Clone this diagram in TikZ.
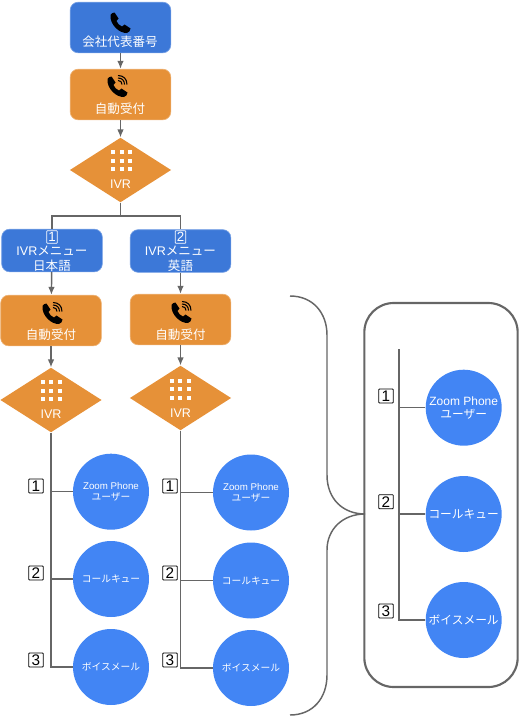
\documentclass[tikz,border=0pt]{standalone}
\usepackage{fontspec}
\usepackage{tikz}
\usetikzlibrary{shapes.geometric,arrows.meta}
\setmainfont{Noto Sans CJK JP}
\newfontfamily\latinfont{Liberation Sans}
\definecolor{menublue}{HTML}{3C78D8}
\definecolor{useblue}{HTML}{4285F4}
\definecolor{aaorange}{HTML}{E69138}
\definecolor{linegray}{HTML}{666666}

\begin{document}
\begin{tikzpicture}[
  x=0.75pt, y=-0.75pt,
  bluebox/.style={rectangle, rounded corners=6pt, draw=menublue!70!white, line width=0.5pt, fill=menublue, inner sep=0pt, minimum width=75.5pt, minimum height=38pt},
  menubox/.style={bluebox, minimum height=32pt},
  orangebox/.style={rectangle, rounded corners=6pt, draw=aaorange!70!white, line width=0.5pt, fill=aaorange, inner sep=0pt, minimum width=75.5pt, minimum height=38pt},
  ivrnode/.style={diamond, fill=aaorange, inner sep=0pt, minimum width=76pt, minimum height=48.5pt},
  usernode/.style={circle, fill=useblue, text=white, inner sep=0pt, minimum size=57pt, align=center, font=\fontsize{7.3}{8.4}\selectfont},
  bigusernode/.style={usernode, font=\fontsize{8.8}{10}\selectfont},
  caption/.style={text=white, inner sep=0pt, font=\fontsize{9.4}{11.2}\selectfont, align=center},
  keybox/.style={rectangle, rounded corners=0.6pt, draw=black, fill=white, line width=0.6pt, inner sep=0pt, minimum width=11pt, minimum height=10.5pt, font=\latinfont\fontsize{11.5}{11.5}\selectfont},
  menukey/.style={keybox, draw=white, fill=menublue, text=white, minimum width=8pt, minimum height=9.5pt, font=\latinfont\fontsize{10}{10}\selectfont},
  link/.style={draw=linegray, line width=1.1pt},
  flow/.style={link, -{Latex[length=6pt,width=5pt]}},
  phone/.pic={
    \fill[black] (-9.5,-8) .. controls (-9,-9.5) and (-7,-10.5) .. (-5.5,-10.5) -- (-1.5,-4.5)
      .. controls (-2,-3.5) and (-3,-3) .. (-3.5,-2) .. controls (-2.5,0.5) and (-0.5,2.5) .. (2,3.5)
      .. controls (3,3) and (3.5,2) .. (4.5,1.5) -- (10.5,5.5) .. controls (10.5,7.5) and (9,9.5) .. (7,10)
      .. controls (-1,10.5) and (-10.5,1) .. (-9.5,-8) -- cycle;
  },
  waves/.pic={
    \draw[black, line width=0.8pt] (1,-6.5) .. controls (3.5,-6.5) and (5,-5) .. (5,-2.5);
    \draw[black, line width=0.8pt] (1,-9) .. controls (5,-9) and (7.5,-6.5) .. (7.5,-2.5);
    \draw[black, line width=0.8pt] (1,-11.5) .. controls (6.5,-11.5) and (10,-8) .. (10,-2.5);
  },
  dots/.pic={
    \foreach \dx in {-8.5,0,8.5}
      \foreach \dy in {-8.5,0,8.5}
        \fill[white] (\dx-2,\dy-2) rectangle (\dx+2,\dy+2);
  }
]
\useasboundingbox (0,0) rectangle (520,721);

% Main number and first attendant
\node[bluebox] (main) at (120.5,27.5) {};
\pic at (120,23) {phone};
\node[caption] (mainlabel) at (120,42) {会社代表番号};
\node[orangebox] (aa) at (120.5,94.5) {};
\pic at (117,87) {phone};
\pic at (117,87) {waves};
\node[caption] (aalabel) at (120,109) {自動受付};
\node[ivrnode] (ivr) at (120.5,170) {};
\pic at (121.5,160.5) {dots};
\node[caption] (ivrlabel) at (120.5,184) {\latinfont IVR};
\draw[flow] (main) -- (aa);
\draw[flow] (aa) -- (ivr);

% Menus
\node[menubox] (menuja) at (52,250.5) {};
\node[menukey] (keyja) at (52,237) {1};
\node[caption] (menujalabel) at (52,259) {{\latinfont IVR}メニュー\\日本語};
\node[menubox] (menuen) at (180.5,251) {};
\node[menukey] (keyen) at (180.5,237) {2};
\node[caption] (menuenlabel) at (180.5,259) {{\latinfont IVR}メニュー\\英語};
\coordinate (split) at (120.5,216);
\draw[link] (ivr) -- (split);
\draw[link] (split) -| (menuja);
\draw[link] (split) -| (menuen);

% Japanese branch
\node[orangebox] (aaja) at (51,320.5) {};
\pic at (52,314) {phone};
\pic at (52,314) {waves};
\node[caption] (aajalabel) at (51,335) {自動受付};
\node[ivrnode] (ivrja) at (51,400) {};
\pic at (51,390.5) {dots};
\node[caption] (ivrjalabel) at (51,414) {\latinfont IVR};
\draw[flow] (menuja) -- (aaja);
\draw[flow] (aaja) -- (ivrja);
\node[usernode] (userja) at (111,491.7) {{\latinfont Zoom Phone}\\ユーザー};
\node[usernode] (queueja) at (111,579) {コールキュー};
\node[usernode] (mailja) at (111,667) {ボイスメール};
\node[keybox] (keyja1) at (36,486) {1};
\node[keybox] (keyja2) at (36,573) {2};
\node[keybox] (keyja3) at (36,660) {3};
\draw[link] (ivrja) |- (mailja);
\draw[link] (ivrja.south |- userja) -- (userja);
\draw[link] (ivrja.south |- queueja) -- (queueja);

% English branch
\node[orangebox] (aaen) at (180.5,319.5) {};
\pic at (181,313) {phone};
\pic at (181,313) {waves};
\node[caption] (aaenlabel) at (180.5,335) {自動受付};
\node[ivrnode] (ivren) at (180.5,398) {};
\pic at (180,389) {dots};
\node[caption] (ivrenlabel) at (180.5,413) {\latinfont IVR};
\draw[flow] (menuen) -- (aaen);
\draw[flow] (aaen) -- (ivren);
\node[usernode] (useren) at (251,492.5) {{\latinfont Zoom Phone}\\ユーザー};
\node[usernode] (queueen) at (251,580.5) {コールキュー};
\node[usernode] (mailen) at (251,668) {ボイスメール};
\node[keybox] (keyen1) at (170,486) {1};
\node[keybox] (keyen2) at (170,573) {2};
\node[keybox] (keyen3) at (170,660) {3};
\draw[link] (ivren) |- (mailen);
\draw[link] (ivren.south |- useren) -- (useren);
\draw[link] (ivren.south |- queueen) -- (queueen);

% Panel on the right
\node[rectangle, rounded corners=22pt, draw=linegray, line width=1.6pt, minimum width=115pt, minimum height=288pt, inner sep=0pt] (panel) at (441,495) {};
\coordinate (trunk) at (399,349);
\node[bigusernode] (user) at (463.7,407.7) {{\latinfont\fontsize{9}{10}\selectfont Zoom Phone}\\ユーザー};
\node[bigusernode] (queue) at (463.7,514) {コールキュー};
\node[bigusernode] (mail) at (463.7,620) {ボイスメール};
\node[keybox] (key1) at (386,396) {1};
\node[keybox] (key2) at (386,501.7) {2};
\node[keybox] (key3) at (386,611) {3};
\draw[link] (trunk) |- (mail);
\draw[link] (trunk |- user) -- (user);
\draw[link] (trunk |- queue) -- (queue);

% Brace
\coordinate (bracetop) at (290,296);
\coordinate (bracebottom) at (290,715);
\coordinate (join) at (365,514);
\draw[link] (bracetop) .. controls (313,296) and (327,313) .. (327,335) -- (327,475)
  .. controls (327,499) and (343,514) .. (join);
\draw[link] (bracebottom) .. controls (313,715) and (327,698) .. (327,675) -- (327,550)
  .. controls (327,529) and (343,514) .. (join);
\end{tikzpicture}
\end{document}
